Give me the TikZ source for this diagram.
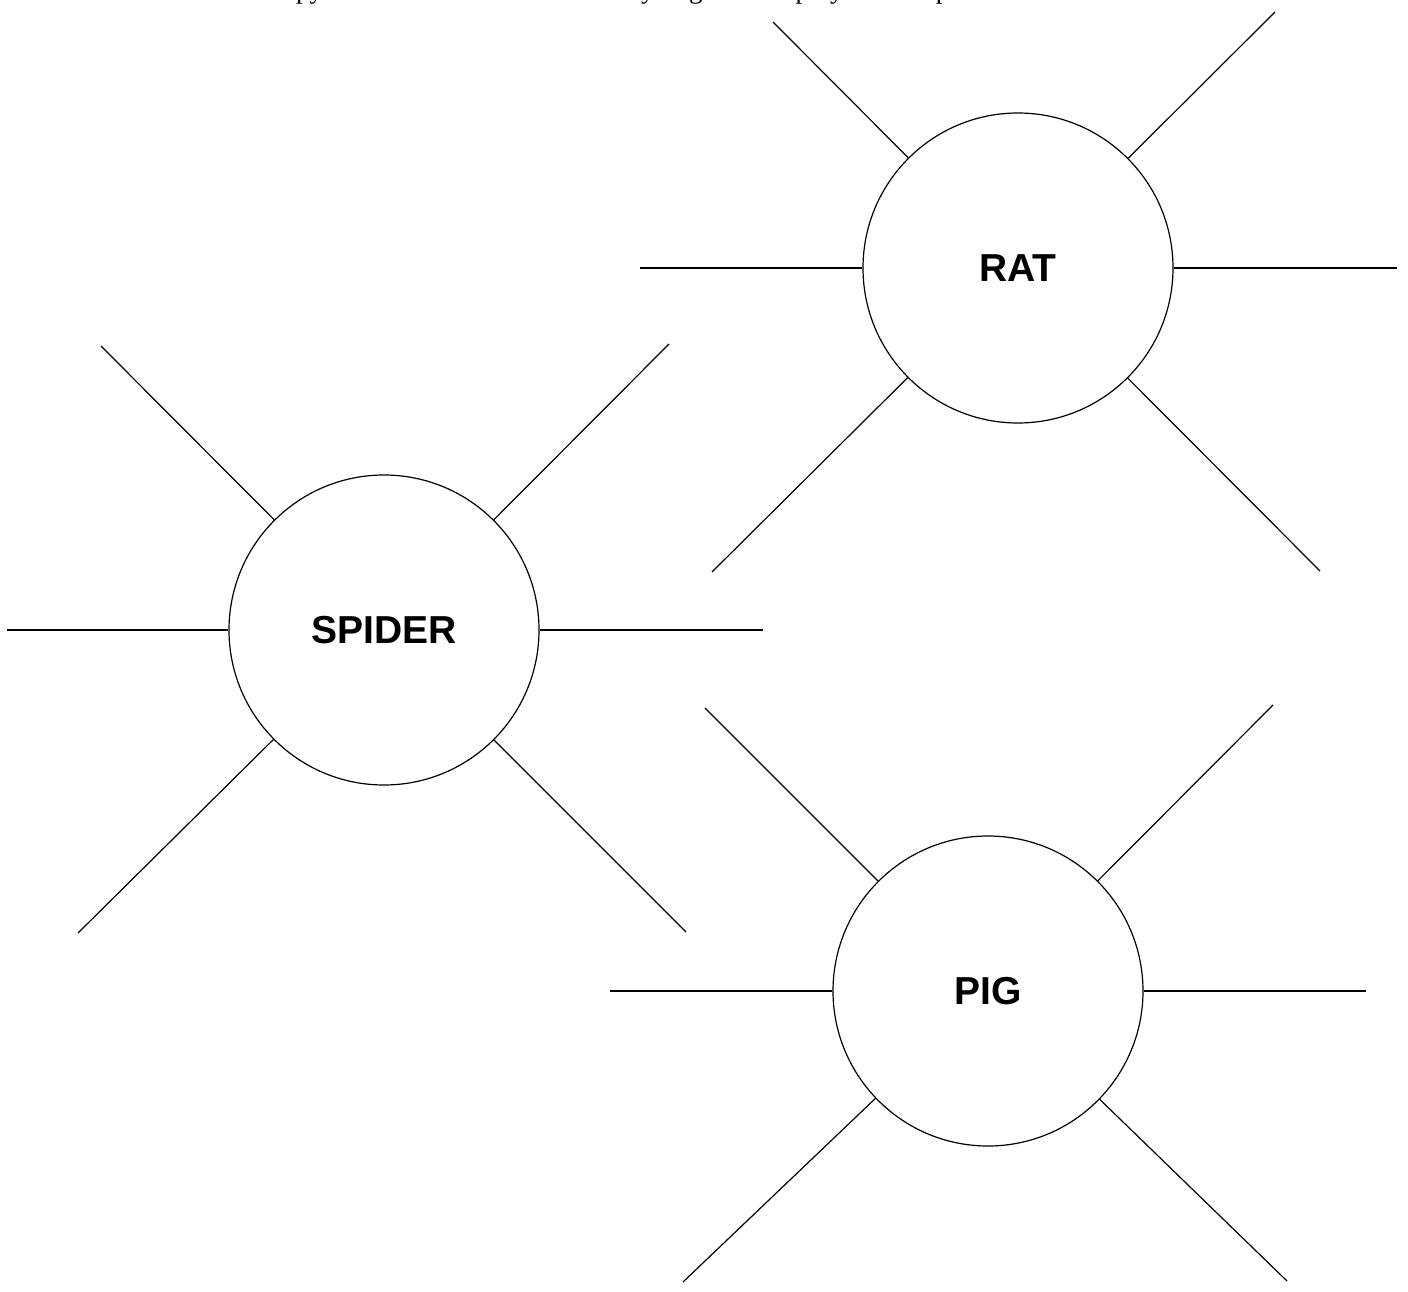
\documentclass[tikz,border=0pt]{standalone}
\usepackage{fontspec}
\newfontfamily\labfont{Liberation Sans}
\newfontfamily\serfont{Liberation Serif}
\begin{document}
\begin{tikzpicture}[x=1pt,y=-1pt,
  animal/.style={circle,draw,line width=1.2pt,minimum size=310pt,inner sep=0pt,
    font=\labfont\bfseries\fontsize{39}{47}\selectfont},
  ray/.style={line width=1.2pt,line cap=butt}]
\useasboundingbox (0,0) rectangle (1408,1292);
\clip (0,0) rectangle (1408,1292);
% cut-off heading line (only descenders are visible)
\node[anchor=base west,inner sep=0pt,font=\serfont\fontsize{27}{32}\selectfont] (hdr) at (264.5,-1)
  {Copy the three names below and try to guess the prey and the predators};
% RAT
\node[animal] (rat) at (1018,268) {RAT};
\coordinate (ratL) at (640,268);
\coordinate (ratR) at (1397,268);
\coordinate (ratUL) at (773,22);
\coordinate (ratUR) at (1275,12);
\coordinate (ratLL) at (712,572);
\coordinate (ratLR) at (1320,571);
\foreach \c in {ratL,ratR,ratUL,ratUR,ratLL,ratLR} \draw[ray] (rat) -- (\c);
% SPIDER
\node[animal] (spider) at (384,630) {SPIDER};
\coordinate (spL) at (7,630);
\coordinate (spR) at (763,630);
\coordinate (spUL) at (101,346);
\coordinate (spUR) at (669,344);
\coordinate (spLL) at (78,933);
\coordinate (spLR) at (686,932);
\foreach \c in {spL,spR,spUL,spUR,spLL,spLR} \draw[ray] (spider) -- (\c);
% PIG
\node[animal] (pig) at (988,991) {PIG};
\coordinate (pgL) at (610,991);
\coordinate (pgR) at (1366,991);
\coordinate (pgUL) at (705,708);
\coordinate (pgUR) at (1273,705);
\coordinate (pgLL) at (683,1282);
\coordinate (pgLR) at (1287,1281);
\foreach \c in {pgL,pgR,pgUL,pgUR,pgLL,pgLR} \draw[ray] (pig) -- (\c);
\end{tikzpicture}
\end{document}
